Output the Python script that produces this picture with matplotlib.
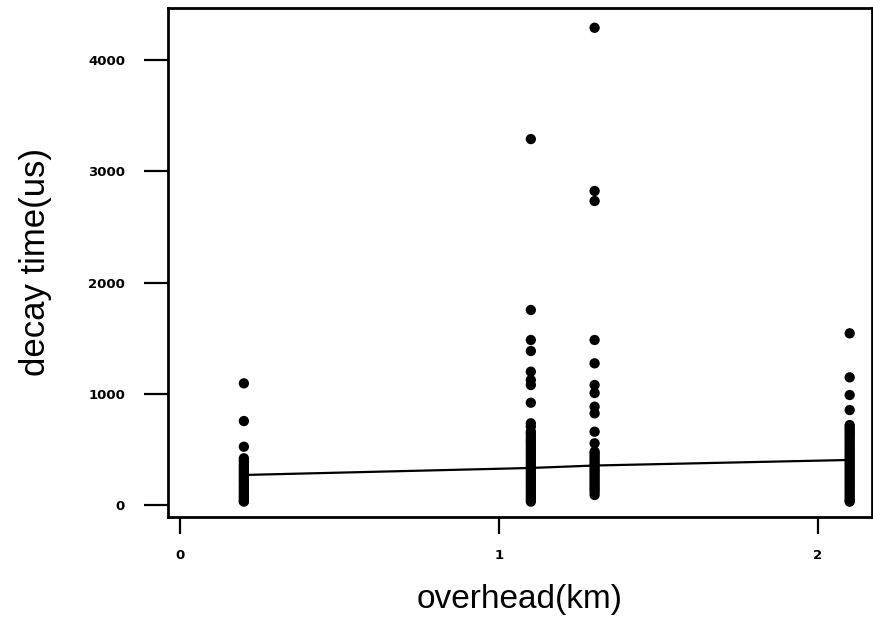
import matplotlib
matplotlib.use("Agg")
import matplotlib.pyplot as plt

# overhead distance (km) of each group and the decay times (us)
overhead = [0.2, 1.1, 1.3, 2.1]

decay_02 = [1094, 755, 524, 420, 400, 385, 362, 345, 330, 310, 296, 280, 262,
            248, 230, 214, 198, 180, 166, 150, 132, 118, 100, 85, 70, 52, 38, 30]
decay_11 = [3291, 1754, 1484, 1385, 1199, 1124, 1079, 920, 735, 705, 659, 640,
            615, 590, 572, 550, 528, 505, 482, 460, 440, 418, 398, 376, 352, 330,
            310, 288, 266, 245, 222, 200, 178, 156, 134, 112, 92, 70, 50, 30]
decay_13 = [4292, 2824, 2734, 1484, 1274, 1079, 1007, 884, 824, 659, 555, 480,
            462, 440, 418, 396, 375, 354, 332, 310, 290, 268, 246, 225, 204, 182,
            160, 140, 118, 90]
decay_21 = [1544, 1148, 989, 854, 719, 700, 680, 660, 640, 620, 598, 576, 555,
            532, 510, 490, 468, 446, 425, 404, 382, 360, 340, 318, 296, 275, 254,
            232, 210, 190, 168, 146, 124, 102, 80, 58, 40, 30]

# connecting line through the group centres
line_y = [270, 333, 355, 405]

x_ticks = [0, 1, 2]
y_ticks = [0, 1000, 2000, 3000, 4000]

fig = plt.figure(figsize=(8.73, 6.2), dpi=100)
ax = fig.add_axes([168 / 873, 1 - 517 / 620, (872 - 168) / 873, (517 - 8) / 620])

groups = [decay_02, decay_11, decay_13, decay_21]
for xv, vals in zip(overhead, groups):
    ax.scatter([xv] * len(vals), vals, s=55, color="black", edgecolors="none", zorder=3)

ax.plot(overhead, line_y, color="black", linewidth=1.6, zorder=2)

ax.set_xlim(-0.038, 2.17)
ax.set_ylim(-108, 4470)
ax.set_xticks(x_ticks)
ax.set_yticks(y_ticks)
ax.set_xticklabels([str(t) for t in x_ticks])
ax.set_yticklabels([str(t) for t in y_ticks])

for sp in ax.spines.values():
    sp.set_linewidth(2.0)

ax.tick_params(axis="y", direction="out", length=17, width=1.6, pad=14, labelsize=9.5)
ax.tick_params(axis="x", direction="out", length=12, width=1.6, pad=11, labelsize=9.5)
for lab in ax.get_xticklabels() + ax.get_yticklabels():
    lab.set_fontweight("bold")

ax.set_xlabel("overhead(km)", family="Liberation Sans", fontsize=24, labelpad=16)
ax.set_ylabel("decay time(us)", family="Liberation Sans", fontsize=25, labelpad=26)

fig.savefig("out.png", dpi=100)
